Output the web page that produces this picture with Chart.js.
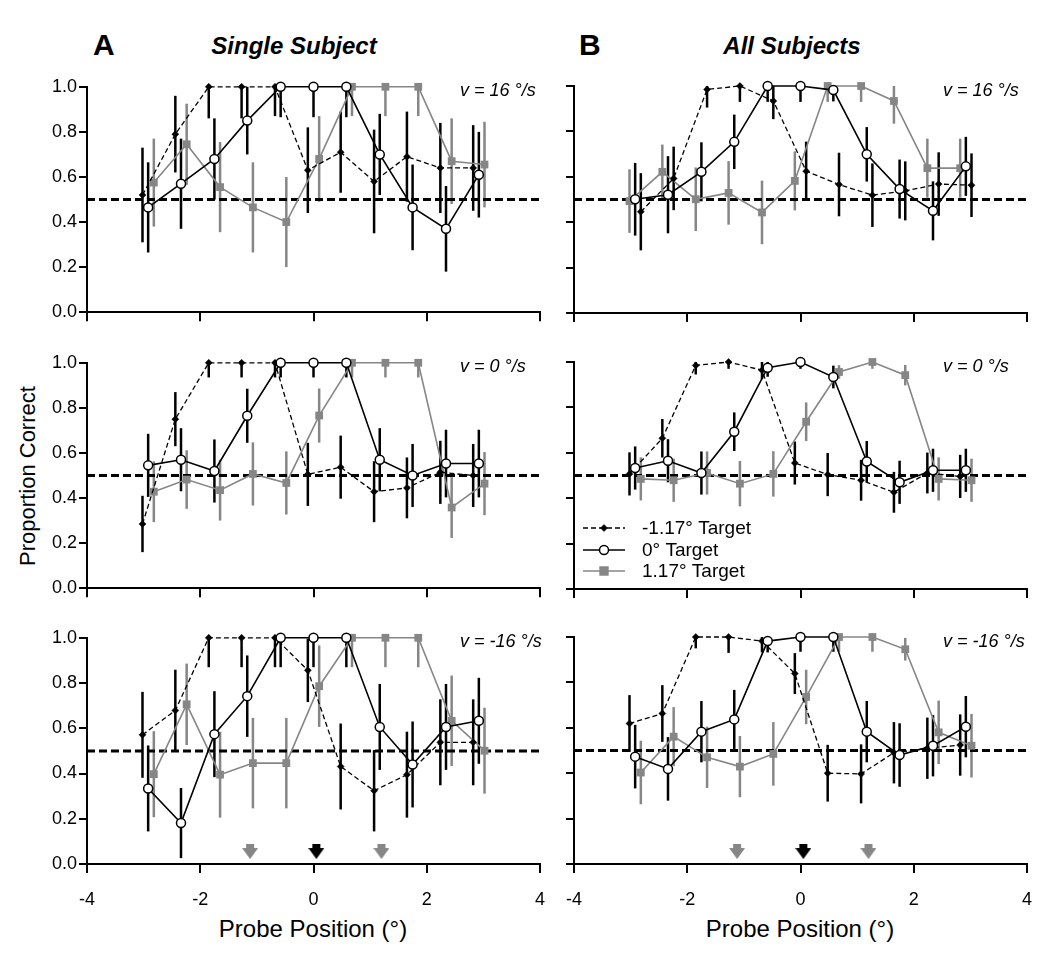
<!DOCTYPE html>
<html>
<head>
<meta charset="utf-8">
<script src="https://cdn.jsdelivr.net/npm/chart.js@4.4.0/dist/chart.umd.min.js"></script>
<style>
  body { margin: 0; background: #fff; }
  #fig { position: relative; width: 1050px; height: 973px; font-family: "Liberation Sans", Arial, sans-serif; color: #000; }
  #fig canvas { position: absolute; }
  .lbl { position: absolute; white-space: nowrap; line-height: 1; }
  .ctr { transform: translate(-50%, -50%); }
  .vel { font-size: 18px; font-style: italic; transform: translateY(-50%); }
</style>
</head>
<body>
<div id="fig">
  <div class="lbl" style="left:93px;top:30px;font-size:30px;font-weight:bold;">A</div>
  <div class="lbl ctr" style="left:294px;top:46px;font-size:24px;font-weight:bold;font-style:italic;">Single Subject</div>
  <div class="lbl" style="left:579px;top:30px;font-size:30px;font-weight:bold;">B</div>
  <div class="lbl ctr" style="left:792px;top:46px;font-size:24px;font-weight:bold;font-style:italic;">All Subjects</div>
  <div class="lbl ctr" style="left:28px;top:476px;font-size:22px;transform:translate(-50%,-50%) rotate(-90deg);">Proportion Correct</div>
  <div class="lbl ctr" style="left:313px;top:929px;font-size:24px;">Probe Position (°)</div>
  <div class="lbl ctr" style="left:800px;top:929px;font-size:24px;">Probe Position (°)</div>
</div>
<script>
// probe positions (deg), three slightly offset sets
const probeA = [-3.02, -2.44, -1.85, -1.27, -0.68, -0.10, 0.48, 1.07, 1.65, 2.24, 2.82];
const probeB = [-2.92, -2.34, -1.75, -1.17, -0.58, 0.00, 0.58, 1.17, 1.75, 2.34, 2.92];
const probeC = [-2.82, -2.24, -1.65, -1.07, -0.48, 0.10, 0.68, 1.27, 1.85, 2.44, 3.02];

const seriesNames = ['-1.17° Target', '0° Target', '1.17° Target'];
const velocityLabels = ['v = 16 °/s', 'v = 0 °/s', 'v = -16 °/s'];
const chanceLevel = 0.5;

// target markers on the bottom panels
const arrowX = [-1.12, 0.05, 1.2];
const arrowY = [0.055, 0.055, 0.055];

// A: single subject
const ssFastNeg = [0.52, 0.79, 1.0, 1.0, 1.0, 0.63, 0.71, 0.58, 0.69, 0.64, 0.64];
const ssFastNegErr = [0.21, 0.17, 0.14, 0.14, 0.13, 0.19, 0.18, 0.23, 0.2, 0.2, 0.19];
const ssFastZero = [0.465, 0.57, 0.68, 0.85, 1.0, 1.0, 1.0, 0.70, 0.465, 0.37, 0.61];
const ssFastZeroErr = [0.2, 0.2, 0.18, 0.15, 0.135, 0.135, 0.135, 0.18, 0.19, 0.19, 0.19];
const ssFastPos = [0.575, 0.745, 0.555, 0.465, 0.40, 0.68, 1.0, 1.0, 1.0, 0.67, 0.655];
const ssFastPosErr = [0.195, 0.18, 0.2, 0.2, 0.2, 0.19, 0.13, 0.13, 0.13, 0.19, 0.19];

const ssStillNeg = [0.285, 0.75, 1.0, 1.0, 1.0, 0.505, 0.537, 0.428, 0.445, 0.514, 0.5];
const ssStillNegErr = [0.125, 0.12, 0.065, 0.065, 0.065, 0.14, 0.14, 0.135, 0.135, 0.14, 0.14];
const ssStillZero = [0.545, 0.57, 0.52, 0.765, 1.0, 1.0, 1.0, 0.57, 0.50, 0.553, 0.553];
const ssStillZeroErr = [0.14, 0.14, 0.14, 0.12, 0.065, 0.065, 0.065, 0.14, 0.14, 0.15, 0.15];
const ssStillPos = [0.428, 0.482, 0.435, 0.507, 0.467, 0.766, 1.0, 1.0, 1.0, 0.358, 0.464];
const ssStillPosErr = [0.135, 0.13, 0.135, 0.14, 0.14, 0.12, 0.065, 0.065, 0.065, 0.135, 0.14];

const ssBackNeg = [0.571, 0.679, 1.0, 1.0, 1.0, 0.856, 0.431, 0.324, 0.395, 0.538, 0.538];
const ssBackNegErr = [0.19, 0.18, 0.13, 0.13, 0.13, 0.14, 0.19, 0.18, 0.19, 0.19, 0.19];
const ssBackZero = [0.334, 0.181, 0.574, 0.742, 1.0, 1.0, 1.0, 0.606, 0.44, 0.606, 0.633];
const ssBackZeroErr = [0.19, 0.155, 0.19, 0.18, 0.13, 0.13, 0.13, 0.19, 0.19, 0.19, 0.19];
const ssBackPos = [0.397, 0.706, 0.395, 0.446, 0.446, 0.786, 1.0, 1.0, 1.0, 0.633, 0.501];
const ssBackPosErr = [0.19, 0.18, 0.19, 0.2, 0.2, 0.18, 0.13, 0.13, 0.13, 0.2, 0.19];

// B: all subjects
const asFastNeg = [0.446, 0.593, 0.985, 1.0, 0.934, 0.625, 0.566, 0.519, 0.538, 0.568, 0.563];
const asFastNegErr = [0.17, 0.14, 0.08, 0.07, 0.08, 0.13, 0.14, 0.14, 0.13, 0.14, 0.14];
const asFastZero = [0.501, 0.521, 0.622, 0.754, 1.0, 1.0, 0.982, 0.699, 0.546, 0.45, 0.646];
const asFastZeroErr = [0.16, 0.17, 0.13, 0.12, 0.07, 0.07, 0.05, 0.12, 0.13, 0.13, 0.13];
const asFastPos = [0.493, 0.622, 0.501, 0.529, 0.443, 0.582, 1.0, 1.0, 0.934, 0.638, 0.638];
const asFastPosErr = [0.14, 0.12, 0.14, 0.14, 0.14, 0.13, 0.07, 0.07, 0.1, 0.13, 0.13];

const asStillNeg = [0.507, 0.664, 0.985, 1.0, 0.964, 0.555, 0.504, 0.479, 0.426, 0.511, 0.496];
const asStillNegErr = [0.095, 0.085, 0.04, 0.03, 0.04, 0.095, 0.095, 0.09, 0.09, 0.09, 0.095];
const asStillZero = [0.533, 0.565, 0.511, 0.693, 0.975, 1.0, 0.934, 0.562, 0.47, 0.523, 0.523];
const asStillZeroErr = [0.095, 0.095, 0.095, 0.085, 0.04, 0.03, 0.05, 0.09, 0.095, 0.095, 0.095];
const asStillPos = [0.485, 0.479, 0.511, 0.464, 0.507, 0.737, 0.956, 1.0, 0.942, 0.485, 0.479];
const asStillPosErr = [0.095, 0.095, 0.095, 0.1, 0.1, 0.085, 0.03, 0.03, 0.045, 0.095, 0.095];

const asBackNeg = [0.619, 0.663, 1.0, 1.0, 0.982, 0.839, 0.4, 0.397, 0.49, 0.51, 0.524];
const asBackNegErr = [0.125, 0.125, 0.05, 0.07, 0.05, 0.09, 0.125, 0.13, 0.135, 0.135, 0.135];
const asBackZero = [0.473, 0.419, 0.583, 0.637, 0.982, 1.0, 1.0, 0.583, 0.48, 0.521, 0.605];
const asBackZeroErr = [0.14, 0.14, 0.135, 0.13, 0.05, 0.065, 0.065, 0.135, 0.14, 0.135, 0.135];
const asBackPos = [0.403, 0.561, 0.47, 0.429, 0.485, 0.736, 1.0, 1.0, 0.946, 0.58, 0.521];
const asBackPosErr = [0.14, 0.13, 0.135, 0.135, 0.14, 0.12, 0.065, 0.065, 0.05, 0.14, 0.14];

const GRAY = '#868686';
const FONT = "'Liberation Sans', Arial, sans-serif";
Chart.defaults.font.family = FONT;
Chart.defaults.color = '#000';

// page layout (chart areas: left 87-540, right 574-1027)
// side paddings are wider than the x tick label overhang so all rows line up
const colLeft = [0, 550], colWidth = [562, 500], yAxisW = [87, 24], padRight = [22, 23];
const areaTop = [86, 362, 637], areaH = 227, padTop = 12;

const panels = [
  { col: 0, row: 0, neg: [probeA, ssFastNeg, ssFastNegErr], zero: [probeB, ssFastZero, ssFastZeroErr], pos: [probeC, ssFastPos, ssFastPosErr] },
  { col: 0, row: 1, neg: [probeA, ssStillNeg, ssStillNegErr], zero: [probeB, ssStillZero, ssStillZeroErr], pos: [probeC, ssStillPos, ssStillPosErr] },
  { col: 0, row: 2, neg: [probeA, ssBackNeg, ssBackNegErr], zero: [probeB, ssBackZero, ssBackZeroErr], pos: [probeC, ssBackPos, ssBackPosErr] },
  { col: 1, row: 0, neg: [probeC, asFastNeg, asFastNegErr], zero: [probeB, asFastZero, asFastZeroErr], pos: [probeA, asFastPos, asFastPosErr] },
  { col: 1, row: 1, neg: [probeA, asStillNeg, asStillNegErr], zero: [probeB, asStillZero, asStillZeroErr], pos: [probeC, asStillPos, asStillPosErr], legend: true },
  { col: 1, row: 2, neg: [probeA, asBackNeg, asBackNegErr], zero: [probeB, asBackZero, asBackZeroErr], pos: [probeC, asBackPos, asBackPosErr] },
];

function pts(xs, ys) { return xs.map((x, i) => ({ x: x, y: ys[i] })); }

function arrowImg(color) {
  const c = document.createElement('canvas');
  c.width = 16; c.height = 15;
  const g = c.getContext('2d');
  g.fillStyle = color;
  g.fillRect(4, 0, 8, 5);
  g.beginPath(); g.moveTo(0, 4); g.lineTo(16, 4); g.lineTo(8, 15); g.closePath(); g.fill();
  return c;
}
const arrowStyles = [arrowImg(GRAY), arrowImg('#000'), arrowImg(GRAY)];

// vertical error bars, drawn under the lines and markers
const errorBars = {
  id: 'errorBars',
  beforeDatasetsDraw(chart) {
    const { ctx, scales: { x, y } } = chart;
    chart.data.datasets.forEach(ds => {
      if (!ds.errors) return;
      ctx.save();
      ctx.strokeStyle = ds.borderColor;
      ctx.lineWidth = 2.5;
      ds.data.forEach((p, j) => {
        const e = ds.errors[j];
        const px = x.getPixelForValue(p.x);
        ctx.beginPath();
        ctx.moveTo(px, y.getPixelForValue(Math.max(p.y - e, 0)));
        ctx.lineTo(px, y.getPixelForValue(Math.min(p.y + e, 1)));
        ctx.stroke();
      });
      ctx.restore();
    });
  }
};

function drawMarker(ctx, style, r, x, y) {
  ctx.beginPath();
  if (style === 'circle') ctx.arc(x, y, r, 0, Math.PI * 2);
  else if (style === 'rect') { const s = Math.SQRT1_2 * r; ctx.rect(x - s, y - s, 2 * s, 2 * s); }
  else { ctx.moveTo(x, y - r); ctx.lineTo(x + r, y); ctx.lineTo(x, y + r); ctx.lineTo(x - r, y); ctx.closePath(); }
  ctx.fill();
  ctx.stroke();
}

// legend box inside the middle right panel
const panelLegend = {
  id: 'panelLegend',
  afterDraw(chart, args, opts) {
    if (!opts.show) return;
    const { ctx, chartArea } = chart;
    const x0 = chartArea.left + 9, x1 = chartArea.left + 51, tx = chartArea.left + 68;
    const rows = [166, 188, 209];
    ctx.save();
    ctx.font = '19px ' + FONT;
    ctx.textBaseline = 'middle';
    for (let i = 0; i < 3; i++) {
      const ds = chart.data.datasets[i];
      const yy = chartArea.top + rows[i];
      ctx.strokeStyle = ds.borderColor;
      ctx.lineWidth = ds.borderWidth;
      ctx.setLineDash(ds.borderDash || []);
      ctx.beginPath(); ctx.moveTo(x0, yy); ctx.lineTo(x1, yy); ctx.stroke();
      ctx.setLineDash([]);
      ctx.fillStyle = ds.pointBackgroundColor;
      ctx.strokeStyle = ds.pointBorderColor;
      ctx.lineWidth = ds.pointBorderWidth;
      drawMarker(ctx, ds.pointStyle, ds.pointRadius, (x0 + x1) / 2, yy);
      ctx.fillStyle = '#000';
      ctx.fillText(seriesNames[i], tx, yy + 1);
    }
    ctx.restore();
  }
};

const fig = document.getElementById('fig');

panels.forEach(p => {
  const bottomRow = p.row === 2;
  const xAxisH = bottomRow ? 44 : 12;
  const cv = document.createElement('canvas');
  const w = colWidth[p.col], h = padTop + areaH + xAxisH;
  cv.width = w; cv.height = h;
  cv.style.left = colLeft[p.col] + 'px';
  cv.style.top = (areaTop[p.row] - padTop) + 'px';
  fig.appendChild(cv);

  const vel = document.createElement('div');
  vel.className = 'lbl vel';
  vel.textContent = velocityLabels[p.row];
  vel.style.left = (p.col === 0 ? 460 : 943) + 'px';
  vel.style.top = (areaTop[p.row] + 4) + 'px';
  fig.appendChild(vel);

  const datasets = [
    {
      label: seriesNames[0], data: pts(p.neg[0], p.neg[1]), errors: p.neg[2],
      showLine: true, borderColor: '#000', borderWidth: 1.3, borderDash: [5, 3],
      pointStyle: 'rectRot', pointRadius: 3.5, pointBackgroundColor: '#000',
      pointBorderColor: '#000', pointBorderWidth: 0.5, order: 2, clip: false
    },
    {
      label: seriesNames[1], data: pts(p.zero[0], p.zero[1]), errors: p.zero[2],
      showLine: true, borderColor: '#000', borderWidth: 1.6,
      pointStyle: 'circle', pointRadius: 4.5, pointBackgroundColor: '#fff',
      pointBorderColor: '#000', pointBorderWidth: 1.5, order: 1, clip: false
    },
    {
      label: seriesNames[2], data: pts(p.pos[0], p.pos[1]), errors: p.pos[2],
      showLine: true, borderColor: GRAY, borderWidth: 1.6,
      pointStyle: 'rect', pointRadius: 5.5, pointBackgroundColor: GRAY,
      pointBorderColor: GRAY, pointBorderWidth: 0, order: 3, clip: false
    },
    {
      label: 'chance', data: [{ x: -4, y: chanceLevel }, { x: 4, y: chanceLevel }],
      showLine: true, borderColor: '#000', borderWidth: 3, borderDash: [8, 4],
      pointRadius: 0, order: 4, clip: false
    }
  ];
  if (bottomRow) {
    datasets.push({
      label: 'targets', data: pts(arrowX, arrowY), showLine: false,
      pointStyle: arrowStyles, pointRadius: 8, order: 0, clip: false
    });
  }

  new Chart(cv, {
    type: 'scatter',
    data: { datasets: datasets },
    plugins: [errorBars, panelLegend],
    options: {
      responsive: false,
      animation: false,
      events: [],
      layout: { autoPadding: false, padding: { top: padTop, right: padRight[p.col], left: 0, bottom: 0 } },
      plugins: {
        legend: { display: false },
        tooltip: { enabled: false },
        panelLegend: { show: !!p.legend }
      },
      scales: {
        x: {
          type: 'linear', min: -4, max: 4,
          border: { display: true, color: '#000', width: 2 },
          grid: { drawOnChartArea: false, drawTicks: true, tickLength: 9, color: '#000', lineWidth: 2 },
          ticks: { display: bottomRow, stepSize: 2, padding: 16, font: { size: 18 }, color: '#000', maxRotation: 0 },
          afterFit(s) { s.height = xAxisH; }
        },
        y: {
          type: 'linear', min: 0, max: 1,
          border: { display: true, color: '#000', width: 2 },
          grid: { drawOnChartArea: false, drawTicks: true, tickLength: 8, color: '#000', lineWidth: 2 },
          ticks: {
            display: p.col === 0, stepSize: 0.2, padding: 2, font: { size: 18 }, color: '#000',
            callback: v => v.toFixed(1)
          },
          afterFit(s) { s.width = yAxisW[p.col]; }
        }
      }
    }
  });
});
</script>
</body>
</html>
